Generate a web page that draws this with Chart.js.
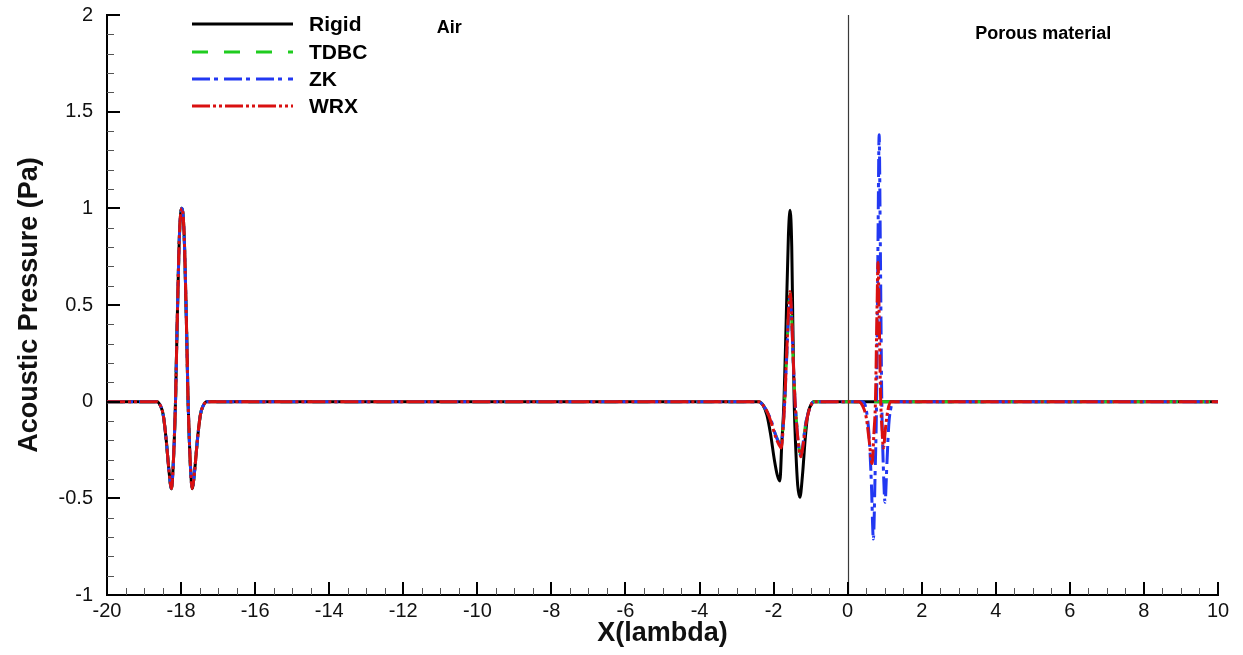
<!DOCTYPE html>
<html>
<head>
<meta charset="utf-8">
<script src="https://cdn.jsdelivr.net/npm/chart.js@4.4.1/dist/chart.umd.min.js"></script>
<style>
  html, body { margin: 0; padding: 0; background: #ffffff; }
  #wrap { width: 1243px; height: 655px; }
</style>
</head>
<body>
<div id="wrap"><canvas id="c" width="1243" height="655"></canvas></div>
<script>
// Domain limits and axis ticks
const xStart = -20;
const xEnd = 10;
const xTickValues = [-20, -18, -16, -14, -12, -10, -8, -6, -4, -2, 0, 2, 4, 6, 8, 10];
const yTickValues = [-1, -0.5, 0, 0.5, 1, 1.5, 2];
const interfaceX = 0;

const seriesNames = ['Rigid', 'TDBC', 'ZK', 'WRX'];

// Pulse far to the left (identical for all four boundary models)
const leftPulseX = [-18.65, -18.56, -18.48, -18.40, -18.33, -18.26, -18.22, -18.18, -18.15, -18.10, -18.04, -17.98,
                    -17.92, -17.86, -17.81, -17.78, -17.74, -17.70, -17.63, -17.56, -17.48, -17.40, -17.31];
const leftPulseY = [0, -0.02, -0.07, -0.20, -0.35, -0.45, -0.36, -0.18, 0, 0.45, 0.88, 1.0,
                    0.88, 0.45, 0, -0.18, -0.36, -0.45, -0.35, -0.20, -0.07, -0.02, 0];

// Pulse near the interface, rigid wall
const rigidNearX = [-2.40, -2.28, -2.18, -2.08, -1.98, -1.90, -1.83, -1.78, -1.72, -1.66, -1.60, -1.555,
                    -1.51, -1.48, -1.445, -1.40, -1.35, -1.29, -1.22, -1.15, -1.08, -1.00, -0.92];
const rigidNearY = [0, -0.02, -0.07, -0.17, -0.30, -0.38, -0.41, -0.22, 0, 0.42, 0.86, 0.99,
                    0.80, 0.40, 0, -0.25, -0.43, -0.495, -0.38, -0.20, -0.07, -0.02, 0];

// Pulse near the interface, impedance models
const nearX = [-2.40, -2.28, -2.18, -2.06, -1.95, -1.86, -1.79, -1.74, -1.70, -1.64, -1.59, -1.555,
               -1.52, -1.47, -1.42, -1.36, -1.31, -1.26, -1.20, -1.13, -1.05, -0.97, -0.88];
const tdbcNearY = [0, -0.02, -0.05, -0.11, -0.17, -0.21, -0.23, -0.12, 0, 0.27, 0.49, 0.56,
                   0.47, 0.21, 0, -0.15, -0.24, -0.275, -0.21, -0.11, -0.05, -0.01, 0];
const zkNearY = [0, -0.02, -0.05, -0.10, -0.17, -0.21, -0.22, -0.12, 0, 0.26, 0.47, 0.54,
                 0.46, 0.21, 0, -0.16, -0.25, -0.28, -0.21, -0.11, -0.05, -0.01, 0];
const wrxNearY = [0, -0.02, -0.05, -0.11, -0.18, -0.22, -0.24, -0.13, 0, 0.28, 0.50, 0.57,
                  0.48, 0.22, 0, -0.16, -0.25, -0.285, -0.22, -0.12, -0.05, -0.01, 0];

// Transmitted pulse inside the porous layer
const zkPorousX = [0.40, 0.50, 0.58, 0.64, 0.695, 0.74, 0.78, 0.82, 0.85, 0.88, 0.92, 0.96, 1.01, 1.06, 1.11, 1.17, 1.25];
const zkPorousY = [0, -0.04, -0.18, -0.42, -0.71, -0.38, 0, 0.85, 1.38, 0.85, 0.02, -0.32, -0.52, -0.32, -0.12, -0.03, 0];
const wrxPorousX = [0.30, 0.40, 0.50, 0.58, 0.66, 0.71, 0.75, 0.79, 0.82, 0.85, 0.89, 0.93, 0.965, 1.02, 1.08, 1.16];
const wrxPorousY = [0, -0.02, -0.08, -0.20, -0.32, -0.16, 0, 0.45, 0.72, 0.45, 0.02, -0.15, -0.24, -0.14, -0.05, 0];

// Region captions
const regionLabels = ['Air', 'Porous material'];
const regionLabelX = [-10.76, 5.28];
const regionLabelY = [1.931, 1.90];

function toPoints(xs, ys) { return xs.map((x, i) => ({ x: x, y: ys[i] })); }
function buildSeries(parts) {
  let pts = [{ x: xStart, y: 0 }];
  parts.forEach(p => { pts = pts.concat(toPoints(p[0], p[1])); });
  pts.push({ x: xEnd, y: 0 });
  return pts;
}

const FONT = '"Liberation Sans", Arial, Helvetica, sans-serif';

const datasets = [
  { label: seriesNames[0], data: buildSeries([[leftPulseX, leftPulseY], [rigidNearX, rigidNearY]]),
    borderColor: '#000000', borderDash: [], order: 3 },
  { label: seriesNames[1], data: buildSeries([[leftPulseX, leftPulseY], [nearX, tdbcNearY]]),
    borderColor: '#1fcc1f', borderDash: [16, 16], order: 2 },
  { label: seriesNames[2], data: buildSeries([[leftPulseX, leftPulseY], [nearX, zkNearY], [zkPorousX, zkPorousY]]),
    borderColor: '#2238f2', borderDash: [18, 4, 4, 6], order: 1 },
  { label: seriesNames[3], data: buildSeries([[leftPulseX, leftPulseY], [nearX, wrxNearY], [wrxPorousX, wrxPorousY]]),
    borderColor: '#d91010', borderDash: [18, 3, 3, 3, 3, 3], order: 0 }
].map(d => Object.assign({
  borderWidth: 3, pointRadius: 0, fill: false, cubicInterpolationMode: 'monotone', borderCapStyle: 'butt'
}, d));

// Inward tick marks, interface line, legend box and region captions
const decor = {
  id: 'decor',
  beforeDatasetsDraw(chart) {
    const { ctx, chartArea: a, scales: { x } } = chart;
    const px = Math.round(x.getPixelForValue(interfaceX)) + 0.5;
    ctx.save();
    ctx.strokeStyle = '#3a3a3a';
    ctx.lineWidth = 1.2;
    ctx.beginPath(); ctx.moveTo(px, a.top); ctx.lineTo(px, a.bottom); ctx.stroke();
    ctx.restore();
  },
  afterDraw(chart) {
    const { ctx, chartArea: a, scales: { x, y } } = chart;
    ctx.save();
    // x-axis ticks (major every 2, minor every 0.5)
    for (let i = 0; i <= 60; i++) {
      const v = xStart + i * 0.5;
      const px = Math.round(x.getPixelForValue(v));
      const major = i % 4 === 0;
      ctx.strokeStyle = major ? '#000' : '#555';
      ctx.lineWidth = major ? 2 : 1;
      const off = major ? 0 : 0.5;
      ctx.beginPath();
      ctx.moveTo(px + off, a.bottom);
      ctx.lineTo(px + off, a.bottom - (major ? 13 : 7));
      ctx.stroke();
    }
    // y-axis ticks (major every 0.5, minor every 0.1)
    for (let i = 0; i <= 30; i++) {
      const v = -1 + i * 0.1;
      const py = Math.round(y.getPixelForValue(v));
      const major = i % 5 === 0;
      ctx.strokeStyle = major ? '#000' : '#555';
      ctx.lineWidth = major ? 2 : 1;
      const off = major ? 0 : 0.5;
      ctx.beginPath();
      ctx.moveTo(a.left, py + off);
      ctx.lineTo(a.left + (major ? 13 : 7), py + off);
      ctx.stroke();
    }
    // legend
    const rows = [24, 52, 79, 106];
    chart.data.datasets.forEach((d, i) => {
      ctx.strokeStyle = d.borderColor;
      ctx.lineWidth = 3;
      ctx.setLineDash(d.borderDash);
      ctx.beginPath();
      ctx.moveTo(192, rows[i]);
      ctx.lineTo(293, rows[i]);
      ctx.stroke();
      ctx.setLineDash([]);
      ctx.fillStyle = '#000';
      ctx.font = 'bold 21px ' + FONT;
      ctx.textAlign = 'left';
      ctx.textBaseline = 'middle';
      ctx.fillText(d.label, 309, rows[i] + 1);
    });
    // region captions
    ctx.font = 'bold 18px ' + FONT;
    ctx.textAlign = 'center';
    ctx.textBaseline = 'middle';
    regionLabels.forEach((t, i) => {
      ctx.fillText(t, x.getPixelForValue(regionLabelX[i]), y.getPixelForValue(regionLabelY[i]));
    });
    ctx.restore();
  }
};

new Chart(document.getElementById('c'), {
  type: 'line',
  data: { datasets: datasets },
  options: {
    responsive: false,
    devicePixelRatio: 1,
    animation: false,
    layout: { padding: { top: 15, right: 25, left: 0, bottom: 0 } },
    plugins: { legend: { display: false }, tooltip: { enabled: false } },
    scales: {
      x: {
        type: 'linear', min: xStart, max: xEnd,
        afterFit: s => { s.height = 60; s.paddingLeft = 0; s.paddingRight = 0; },
        afterBuildTicks: s => { s.ticks = xTickValues.map(v => ({ value: v })); },
        grid: { display: false, drawTicks: false },
        border: { display: true, color: '#000', width: 2 },
        ticks: { autoSkip: false, maxRotation: 0, padding: 4, color: '#111',
                 font: { family: FONT, size: 20 }, callback: v => String(v) },
        title: { display: true, text: 'X(lambda)', color: '#111', padding: { top: 0, bottom: 5 },
                 font: { family: FONT, size: 27, weight: 'bold' } }
      },
      y: {
        type: 'linear', min: -1, max: 2,
        afterFit: s => { s.width = 107; s.paddingTop = 0; s.paddingBottom = 0; },
        afterBuildTicks: s => { s.ticks = yTickValues.map(v => ({ value: v })); },
        grid: { display: false, drawTicks: false },
        border: { display: true, color: '#000', width: 2 },
        ticks: { padding: 14, color: '#111', font: { family: FONT, size: 20 }, callback: v => String(v) },
        title: { display: true, text: 'Acoustic Pressure (Pa)', color: '#111', padding: { top: 13, bottom: 0 },
                 font: { family: FONT, size: 27, weight: 'bold' } }
      }
    }
  },
  plugins: [decor]
});
</script>
</body>
</html>
